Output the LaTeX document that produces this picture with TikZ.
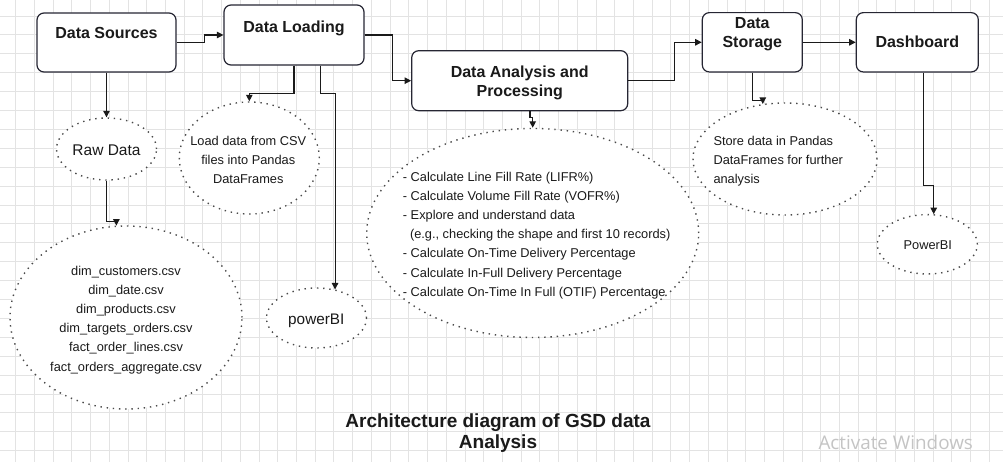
\documentclass[tikz,border=0pt]{standalone}
\usepackage{fontspec}
\usepackage{graphicx}
\setmainfont{Liberation Sans}
\newfontfamily\winfont{Open Sans}
\usetikzlibrary{arrows.meta,shapes.geometric}
\definecolor{gridc}{HTML}{E3E3E3}
\definecolor{boxline}{HTML}{262633}
\definecolor{dotc}{HTML}{4A4A4A}
\definecolor{txt}{HTML}{1A1A1A}
\definecolor{winc}{HTML}{C4C4C4}
\begin{document}
\begin{tikzpicture}[x=1pt,y=-1pt,
  gridline/.style={draw=gridc, line width=0.9pt},
  box/.style={draw=boxline, line width=1.2pt, rounded corners=7pt, fill=white, inner sep=0pt},
  oval/.style={ellipse, draw=dotc, line width=1.4pt, dash pattern=on 1.4pt off 4.8pt, fill=white, inner sep=0pt},
  arr/.style={draw=txt, line width=1.1pt, -{Triangle[length=6.5pt,width=6.5pt]}},
  btext/.style={font=\fontsize{16}{19}\selectfont\bfseries, text=txt, inner sep=0pt, anchor=base},
  otext/.style={font=\fontsize{12.8}{19.1}\selectfont, text=txt, inner sep=0pt},
  ttext/.style={font=\fontsize{19}{21}\selectfont\bfseries, text=txt, inner sep=0pt, anchor=base},
]
% background and grid
\fill[white] (0,0) rectangle (1003,462);
\useasboundingbox (0,0) rectangle (1003,462);
\foreach \i in {0,...,52} \draw[gridline] (15.7+18.72*\i,0) -- (15.7+18.72*\i,462);
\foreach \j in {0,...,23} \draw[gridline] (0,16+18.9*\j) -- (1003,16+18.9*\j);

% boxes
\node[box, minimum width=139pt, minimum height=59pt] (ds) at (106.5,42.5) {};
\node[box, minimum width=140pt, minimum height=60pt] (dl) at (294,35) {};
\node[box, minimum width=216pt, minimum height=60pt] (da) at (519.7,80.7) {};
\node[box, minimum width=100pt, minimum height=59.3pt] (dst) at (752.3,42.3) {};
\node[box, minimum width=122pt, minimum height=59.3pt] (dash) at (917.3,42.3) {};

\node[btext] (dsT) at (106.5,38.7) {Data Sources};
\node[btext] (dlT) at (294,32.4) {Data Loading};
\node[btext] (daT1) at (519.7,77.4) {Data Analysis and};
\node[btext] (daT2) at (519.7,96.4) {Processing};
\node[btext] (dstT1) at (752.3,29) {Data};
\node[btext] (dstT2) at (752.3,48) {Storage};
\node[btext] (dashT) at (917.3,48) {Dashboard};

% ellipses
\node[oval, minimum width=100pt, minimum height=62pt] (raw) at (106.5,149) {};
\node[oval, minimum width=232pt, minimum height=183pt] (files) at (126,317.5) {};
\node[oval, minimum width=140pt, minimum height=112pt] (load) at (249.3,158) {};
\node[oval, minimum width=100pt, minimum height=60pt] (pbi1) at (316.5,318) {};
\node[oval, minimum width=332pt, minimum height=209pt] (proc) at (532.7,233) {};
\node[oval, minimum width=184pt, minimum height=112pt] (store) at (785,159) {};
\node[oval, minimum width=100pt, minimum height=59.4pt] (pbi2) at (927.3,244.3) {};

% ellipse texts
\node[otext, font=\fontsize{15.5}{18}\selectfont, anchor=base] (rawT) at (106.5,155.5) {Raw Data};
\node[otext, align=center] (filesT) at (126,320) {dim\_customers.csv\\dim\_date.csv\\dim\_products.csv\\dim\_targets\_orders.csv\\fact\_order\_lines.csv\\fact\_orders\_aggregate.csv};
\node[otext, align=center, font=\fontsize{12.8}{18.8}\selectfont] (loadT) at (248.3,160) {Load data from CSV\\files into Pandas\\DataFrames};
\node[otext, font=\fontsize{15.3}{18}\selectfont, anchor=base] (pbi1T) at (316.3,324.5) {powerBI};
\node[otext, align=left, anchor=west] (procT) at (402.7,235.5) {- Calculate Line Fill Rate (LIFR\%)\\- Calculate Volume Fill Rate (VOFR\%)\\- Explore and understand data\\\ \ (e.g., checking the shape and first 10 records)\\- Calculate On-Time Delivery Percentage\\- Calculate In-Full Delivery Percentage\\- Calculate On-Time In Full (OTIF) Percentage};
\node[otext, align=left, anchor=west, font=\fontsize{12.8}{18.8}\selectfont] (storeT) at (713.3,161) {Store data in Pandas\\DataFrames for further\\analysis};
\node[otext, anchor=base] (pbi2T) at (927.8,249.6) {PowerBI};

% connectors
\draw[arr] (ds.east) -- ++(28,0) |- (dl.west);
\draw[arr] (dl.east) -- ++(28.3,0) |- (da.west);
\draw[arr] (da.east) -- ++(46.3,0) |- (dst.west);
\draw[arr] (dst.east) -- (dash.west);
\draw[arr] (ds.south) -- (raw.north);
\draw[arr] (raw.south) -- ++(0,40.7) -| (files.96.5);
\draw[arr] (dl.south) -- ++(0,27.7) -| (load.north);
\draw[arr] ([xshift=26.7pt]dl.south) -- ++(0,27.7) -| (pbi1.57.6);
\draw[arr] ([xshift=10.3pt]da.south) -- ++(0,6) -| (proc.north);
\draw[arr] (dst.south) -- ++(0,28) -| (store.112.7);
\draw[arr] ([xshift=6pt]dash.south) -- ++(0,113.3) -| (pbi2.78.5);

% title
\node[ttext] (title1) at (498,427.8) {Architecture diagram of GSD data};
\node[ttext] (title2) at (498,448.8) {Analysis};

% watermark
\node[inner sep=0pt, anchor=base west, text=winc] (win1) at (818.3,449) {\resizebox{154.4pt}{!}{\winfont\fontsize{18}{18}\selectfont Activate Windows}};
\end{tikzpicture}
\end{document}
